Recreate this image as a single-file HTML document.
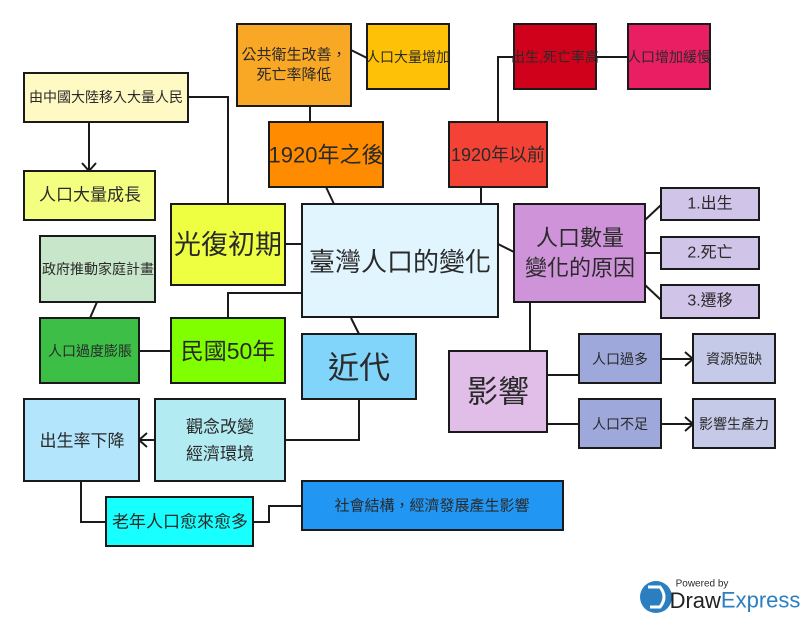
<!DOCTYPE html>
<html><head><meta charset="utf-8"><style>
html,body{margin:0;padding:0;background:#fff;}
svg{display:block;}
text{font-family:"Liberation Sans","Noto Sans CJK TC",sans-serif;fill:#2a2a2a;text-anchor:middle;dominant-baseline:central;}
</style></head><body>
<svg width="800" height="617" viewBox="0 0 800 617" xmlns="http://www.w3.org/2000/svg">
<g fill="none" stroke="#1a1a1a" stroke-width="2">
<polyline points="188,97 228,97 228,204"/>
<line x1="89" y1="122" x2="89" y2="170"/>
<polyline points="82,163 89,171 96,163"/>
<line x1="351" y1="50" x2="367" y2="58"/>
<line x1="310" y1="106" x2="310" y2="122"/>
<line x1="326" y1="187" x2="334" y2="204"/>
<line x1="285" y1="244" x2="302" y2="244"/>
<line x1="97" y1="302" x2="90" y2="318"/>
<line x1="139" y1="351" x2="171" y2="351"/>
<polyline points="228,318 228,293 302,293"/>
<line x1="351" y1="318" x2="359" y2="334"/>
<polyline points="359,399 359,440 285,440"/>
<line x1="155" y1="440" x2="140" y2="440"/>
<polyline points="147,433 139,440 147,447"/>
<polyline points="81,481 81,522 106,522"/>
<polyline points="253,522 269,522 269,506 302,506"/>
<polyline points="498,122 498,57 514,57"/>
<line x1="596" y1="57" x2="628" y2="57"/>
<line x1="481" y1="187" x2="481" y2="204"/>
<line x1="498" y1="244" x2="514" y2="252"/>
<line x1="645" y1="220" x2="661" y2="205"/>
<line x1="645" y1="253" x2="661" y2="253"/>
<line x1="645" y1="285" x2="661" y2="300"/>
<line x1="530" y1="302" x2="530" y2="351"/>
<line x1="547" y1="375" x2="579" y2="375"/>
<line x1="547" y1="424" x2="579" y2="424"/>
<line x1="661" y1="359" x2="692" y2="359"/>
<polyline points="685,352 693,359 685,366"/>
<line x1="661" y1="424" x2="692" y2="424"/>
<polyline points="685,417 693,424 685,431"/>
</g>
<g stroke="#1a1a1a" stroke-width="2">
<rect x="237" y="24" width="114" height="82" fill="#F9A825"/>
<rect x="367" y="24" width="82" height="65" fill="#FFC107"/>
<rect x="24" y="73" width="164" height="49" fill="#FFF9C4"/>
<rect x="24" y="171" width="131" height="49" fill="#F4FF81"/>
<rect x="269" y="122" width="114" height="65" fill="#FF8C00"/>
<rect x="171" y="204" width="114" height="81" fill="#EEFF41"/>
<rect x="40" y="236" width="115" height="66" fill="#C8E6C9"/>
<rect x="302" y="204" width="196" height="113" fill="#E1F5FE"/>
<rect x="449" y="122" width="98" height="65" fill="#F44336"/>
<rect x="514" y="24" width="82" height="65" fill="#D0021B"/>
<rect x="628" y="24" width="82" height="65" fill="#E91E63"/>
<rect x="514" y="204" width="131" height="98" fill="#CE93D8"/>
<rect x="661" y="188" width="98" height="32" fill="#D1C4E9"/>
<rect x="661" y="237" width="98" height="32" fill="#D1C4E9"/>
<rect x="661" y="285" width="98" height="33" fill="#D1C4E9"/>
<rect x="40" y="318" width="99" height="65" fill="#3DBE47"/>
<rect x="171" y="318" width="114" height="65" fill="#7FFF00"/>
<rect x="302" y="334" width="114" height="65" fill="#81D4FA"/>
<rect x="449" y="351" width="98" height="81" fill="#E1BEE7"/>
<rect x="579" y="334" width="82" height="49" fill="#9FA8DA"/>
<rect x="693" y="334" width="82" height="49" fill="#C5CAE9"/>
<rect x="579" y="399" width="82" height="49" fill="#9FA8DA"/>
<rect x="693" y="399" width="82" height="49" fill="#C5CAE9"/>
<rect x="24" y="399" width="115" height="82" fill="#B3E5FC"/>
<rect x="155" y="399" width="130" height="82" fill="#B2EBF2"/>
<rect x="106" y="497" width="147" height="49" fill="#18FFFF"/>
<rect x="302" y="481" width="261" height="49" fill="#2196F3"/>
</g>
<text x="294" y="55" font-size="15">公共衛生改善，</text>
<text x="294" y="75" font-size="15">死亡率降低</text>
<text x="408" y="57" font-size="14">人口大量增加</text>
<text x="106" y="97" font-size="14">由中國大陸移入大量人民</text>
<text x="90" y="195" font-size="17">人口大量成長</text>
<text x="326" y="155" font-size="22">1920年之後</text>
<text x="228" y="245" font-size="27">光復初期</text>
<text x="98" y="269" font-size="14">政府推動家庭計畫</text>
<text x="400" y="262" font-size="26">臺灣人口的變化</text>
<text x="498" y="155" font-size="18">1920年以前</text>
<text x="555" y="57" font-size="14">出生,死亡率高</text>
<text x="669" y="57" font-size="14">人口增加緩慢</text>
<text x="580" y="238" font-size="22">人口數量</text>
<text x="580" y="268" font-size="22">變化的原因</text>
<text x="710" y="204" font-size="16">1.出生</text>
<text x="710" y="253" font-size="16">2.死亡</text>
<text x="710" y="301" font-size="16">3.遷移</text>
<text x="90" y="351" font-size="14">人口過度膨脹</text>
<text x="228" y="351" font-size="23">民國50年</text>
<text x="359" y="368" font-size="31">近代</text>
<text x="498" y="392" font-size="31">影響</text>
<text x="620" y="359" font-size="14">人口過多</text>
<text x="734" y="359" font-size="14">資源短缺</text>
<text x="620" y="424" font-size="14">人口不足</text>
<text x="734" y="424" font-size="14">影響生產力</text>
<text x="82" y="441" font-size="17">出生率下降</text>
<text x="220" y="427" font-size="17">觀念改變</text>
<text x="220" y="454" font-size="17">經濟環境</text>
<text x="180" y="522" font-size="17">老年人口愈來愈多</text>
<text x="432" y="506" font-size="15">社會結構，經濟發展產生影響</text>
<circle cx="656" cy="597" r="16" fill="#2B7FC1"/>
<path d="M648,587 L660,587 Q668,597 660,607 L650,607" fill="none" stroke="#fff" stroke-width="3"/>
<text x="702" y="584" font-size="10" fill="#333">Powered by</text>
<text x="735" y="600" font-size="22" style="fill:#2B7FC1"><tspan style="fill:#222">Draw</tspan>Express</text>
</svg>
</body></html>
